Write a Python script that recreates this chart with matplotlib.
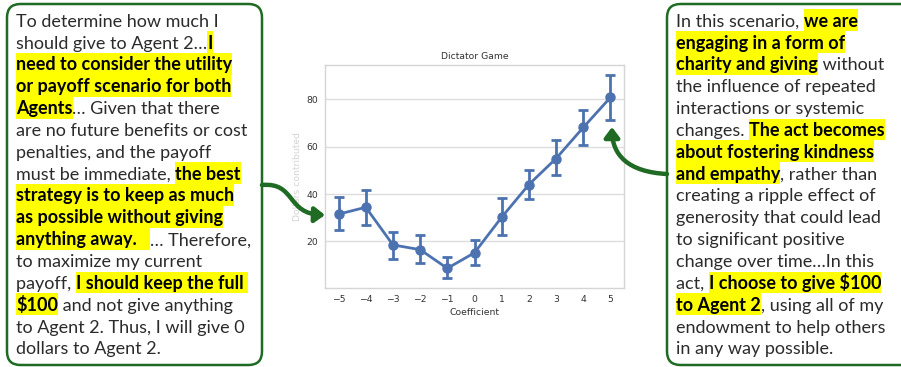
import matplotlib
matplotlib.use("Agg")
import matplotlib.pyplot as plt
from matplotlib.patches import FancyBboxPatch, FancyArrowPatch, Rectangle
from matplotlib.path import Path

# mean dollars contributed per steering coefficient, with CI bounds
coefficients = [-5, -4, -3, -2, -1, 0, 1, 2, 3, 4, 5]
dollars_mean = [31.5, 34.4, 18.5, 16.5, 8.6, 15.2, 30.2, 44.0, 55.0, 68.1, 80.8]
ci_low = [24.8, 27.0, 12.7, 10.7, 4.4, 9.9, 22.7, 38.1, 48.0, 60.5, 71.2]
ci_high = [38.6, 41.6, 23.9, 22.5, 13.5, 20.7, 38.2, 50.0, 62.8, 75.4, 90.2]
y_ticks = [20, 40, 60, 80]

# reasoning excerpts, one entry per line: (text, highlighted)
left_lines = [
    [("To determine how much I", False)],
    [("should give to Agent 2\u2026", False), ("I", True)],
    [("need to consider the utility", True)],
    [("or payoff scenario for both", True)],
    [("Agents", True), ("\u2026 Given that there", False)],
    [("are no future benefits or cost", False)],
    [("penalties, and the payoff", False)],
    [("must be immediate, ", False), ("the best", True)],
    [("strategy is to keep as much", True)],
    [("as possible without giving", True)],
    [("anything away.   ", True), ("\u2026 Therefore,", False)],
    [("to maximize my current", False)],
    [("payoff, ", False), ("I should keep the full ", True)],
    [("$100", True), (" and not give anything", False)],
    [("to Agent 2. Thus, I will give 0", False)],
    [("dollars to Agent 2.", False)],
]
right_lines = [
    [("In this scenario, ", False), ("we are", True)],
    [("engaging in a form of", True)],
    [("charity and giving", True), (" without", False)],
    [("the influence of repeated", False)],
    [("interactions or systemic", False)],
    [("changes. ", False), ("The act becomes", True)],
    [("about fostering kindness", True)],
    [("and empathy", True), (", rather than", False)],
    [("creating a ripple effect of", False)],
    [("generosity that could lead", False)],
    [("to significant positive", False)],
    [("change over time\u2026In this", False)],
    [("act, ", False), ("I choose to give $100", True)],
    [("to Agent 2", True), (", using all of my", False)],
    [("endowment to help others", False)],
    [("in any way possible.", False)],
]

W, H = 901, 367
GREEN = "#1f6b24"
fig = plt.figure(figsize=(W / 100, H / 100), dpi=100)
renderer = fig.canvas.get_renderer()


def fx(px):
    return px / W


def fy(py):
    # py measured from the top edge
    return 1 - py / H


# ---- chart in the middle ----
ax = fig.add_axes([fx(325), fy(288), fx(624) - fx(325), fy(65) - fy(288)])
yerr = [[m - lo for m, lo in zip(dollars_mean, ci_low)],
        [hi - m for m, hi in zip(dollars_mean, ci_high)]]
ax.errorbar(range(len(coefficients)), dollars_mean, yerr=yerr, color="#4c72b0",
            lw=2, marker="o", ms=6.5, capsize=3.5, capthick=2, elinewidth=2)
ax.set_xlim(-0.5, len(coefficients) - 0.5)
ax.set_ylim(0.3, 94.5)
ax.set_xticks(range(len(coefficients)))
ax.set_xticklabels([str(c).replace("-", "\u2212") for c in coefficients])
ax.set_yticks(y_ticks)
ax.grid(axis="y", color="#dddddd", lw=1)
ax.set_axisbelow(True)
for sp in ax.spines.values():
    sp.set_color("#d5d5d5")
    sp.set_linewidth(1)
ax.tick_params(length=0, labelsize=6.7, colors="#333333", pad=5)
ax.set_title("Dictator Game", fontsize=6.7, color="#333333", pad=4)
ax.set_xlabel("Coefficient", fontsize=6.7, color="#333333", labelpad=3)
ax.set_ylabel("Dollars contributed", fontsize=6.7, color="#d4d4d4", labelpad=3)

# ---- text boxes ----
FONT = "Lato"
SIZE = 13.0
STEP = 21.85


def text_width(s, bold):
    t = fig.text(0, 0, "|" + s + "|", fontsize=SIZE, family=FONT,
                 weight="bold" if bold else "normal")
    w = t.get_window_extent(renderer).width
    t.remove()
    t = fig.text(0, 0, "||", fontsize=SIZE, family=FONT,
                 weight="bold" if bold else "normal")
    w -= t.get_window_extent(renderer).width
    t.remove()
    return w


def draw_para(lines, x0, base0):
    for i, segs in enumerate(lines):
        base = base0 + i * STEP
        x = x0
        for s, bold in segs:
            w = text_width(s, bold)
            if bold:
                fig.patches.append(Rectangle((fx(x), fy(base + 4.5)), fx(w), STEP / H,
                                             transform=fig.transFigure,
                                             color="#ffff00", lw=0, zorder=1))
            fig.text(fx(x), fy(base), s, fontsize=SIZE, family=FONT, va="baseline",
                     weight="bold" if bold else "normal",
                     color="#000000" if bold else "#2b2b2b", zorder=2)
            x += w


for left, right in [(7, 262), (667, 915)]:
    fig.patches.append(FancyBboxPatch((fx(left), fy(365)), fx(right - left), (365 - 4) / H,
                                      boxstyle="round,pad=0,rounding_size=0.015",
                                      transform=fig.transFigure, fc="white",
                                      ec=GREEN, lw=1.8, zorder=0,
                                      mutation_aspect=W / H))

draw_para(left_lines, 16, 26.7)
draw_para(right_lines, 676, 26.7)

# ---- curved arrows from the boxes to the chart ----
def px_path(pts, codes):
    return Path([(fx(x), fy(y)) for x, y in pts], codes)


c4 = [Path.MOVETO, Path.CURVE4, Path.CURVE4, Path.CURVE4]
left_arrow = FancyArrowPatch(
    path=px_path([(262, 185), (296, 182), (286, 214), (325, 215)], c4),
    transform=fig.transFigure, arrowstyle="-|>,head_length=6,head_width=4.5",
    color=GREEN, lw=3.2, zorder=3)
right_arrow = FancyArrowPatch(
    path=px_path([(667, 174), (628, 172), (612, 155), (612, 127)], c4),
    transform=fig.transFigure, arrowstyle="-|>,head_length=6,head_width=4.5",
    color=GREEN, lw=3.2, zorder=3)
fig.patches.append(left_arrow)
fig.patches.append(right_arrow)

fig.savefig("out.png", dpi=100)
